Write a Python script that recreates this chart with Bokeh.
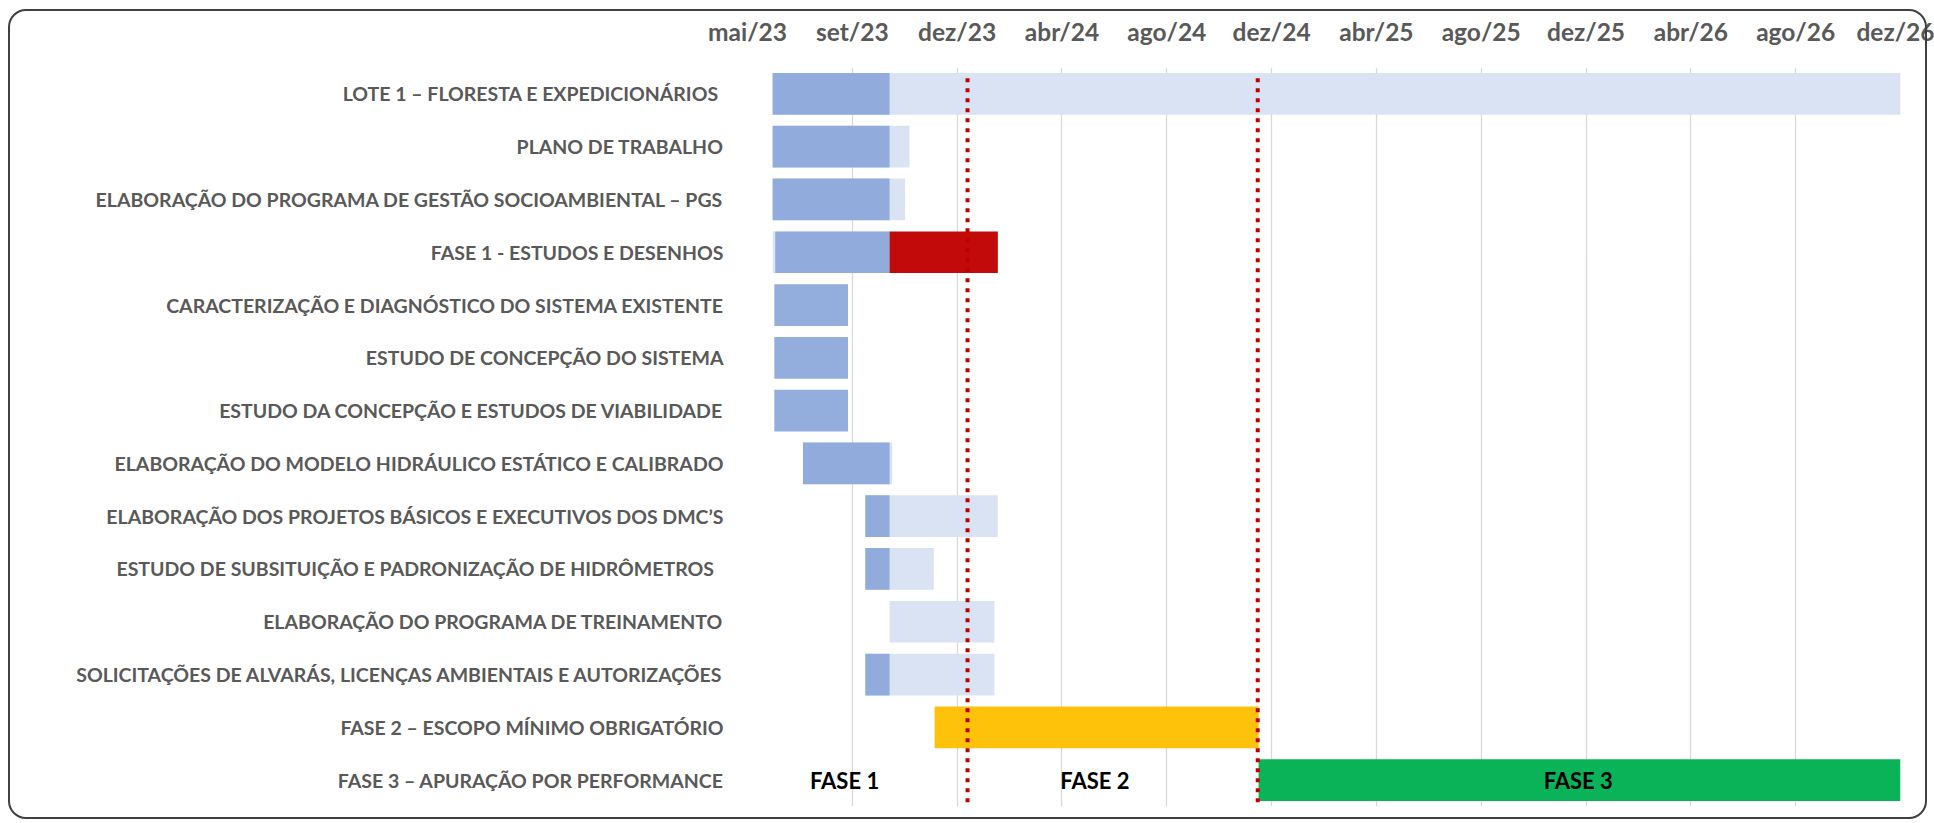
import pandas as pd
from bokeh.plotting import figure
from bokeh.models import FixedTicker, ColumnDataSource, Range1d, FactorRange, InlineStyleSheet
from bokeh.core.properties import value
from bokeh.embed import file_html
from bokeh.resources import INLINE

# ---------------- data ----------------
TASKS = [
    "LOTE 1 – FLORESTA E EXPEDICIONÁRIOS ",
    "PLANO DE TRABALHO",
    "ELABORAÇÃO DO PROGRAMA DE GESTÃO SOCIOAMBIENTAL – PGS",
    "FASE 1 - ESTUDOS E DESENHOS",
    "CARACTERIZAÇÃO E DIAGNÓSTICO DO SISTEMA EXISTENTE",
    "ESTUDO DE CONCEPÇÃO DO SISTEMA",
    "ESTUDO DA CONCEPÇÃO E ESTUDOS DE VIABILIDADE",
    "ELABORAÇÃO DO MODELO HIDRÁULICO ESTÁTICO E CALIBRADO",
    "ELABORAÇÃO DOS PROJETOS BÁSICOS E EXECUTIVOS DOS DMC’S",
    "ESTUDO DE SUBSITUIÇÃO  E PADRONIZAÇÃO DE HIDRÔMETROS ",
    "ELABORAÇÃO DO PROGRAMA DE TREINAMENTO",
    "SOLICITAÇÕES DE ALVARÁS, LICENÇAS AMBIENTAIS E AUTORIZAÇÕES",
    "FASE 2 – ESCOPO MÍNIMO OBRIGATÓRIO",
    "FASE 3 – APURAÇÃO POR PERFORMANCE",
]

# planned (light) bars
PLAN_START = ["2023-06-01", "2023-06-01", "2023-06-01", "2023-06-01", None, None, None,
              "2023-07-06", "2023-09-16", "2023-09-16", "2023-10-14", "2023-09-16", None, None]
PLAN_END = ["2026-12-24", "2023-11-06", "2023-11-01", "2023-10-14", None, None, None,
            "2023-10-17", "2024-02-16", "2023-12-04", "2024-02-12", "2024-02-12", None, None]

# executed (dark) bars
DONE_START = ["2023-06-01", "2023-06-01", "2023-06-01", "2023-06-04", "2023-06-03", "2023-06-03",
              "2023-06-03", "2023-07-06", "2023-09-16", "2023-09-16", None, "2023-09-16", None, None]
DONE_END = ["2023-10-14", "2023-10-14", "2023-10-14", "2023-10-14", "2023-08-27", "2023-08-27",
            "2023-08-27", "2023-10-14", "2023-10-14", "2023-10-14", None, "2023-10-14", None, None]

# phase bars
PHASE_ROW = [3, 12, 13]
PHASE_START = ["2023-10-14", "2023-12-05", "2024-12-13"]
PHASE_END = ["2024-02-16", "2024-12-13", "2026-12-24"]

# milestone dotted lines
MILESTONES = ["2024-01-12", "2024-12-12"]

# phase labels in the last row
PHASE_LABELS = ["FASE 1", "FASE 2", "FASE 3"]
PHASE_LABEL_X = ["2023-08-23", "2024-06-07", "2025-12-17"]

# date axis
AXIS_START = "2023-05-03"
TICK_STEP_DAYS = 121
TICK_LABELS = ["mai/23", "set/23", "dez/23", "abr/24", "ago/24", "dez/24",
               "abr/25", "ago/25", "dez/25", "abr/26", "ago/26", "dez/26"]

# ---------------- styles ----------------
DARK = "#8AA6DA"
LIGHT = "#DAE3F3"
PHASE_COLORS = ["#C00000", "#FFC000", "#00B050"]
RED_LINE = "#C00000"
FONT = "Lato"


def ms(d):
    return int(pd.Timestamp(d).value // 10**6)


start_ms = ms(AXIS_START)
ticks = [ms(pd.Timestamp(AXIS_START) + pd.Timedelta(days=TICK_STEP_DAYS * k))
         for k in range(len(TICK_LABELS))]
end_ms = ticks[-1]

plan = ColumnDataSource(dict(
    y=[t for t, s in zip(TASKS, PLAN_START) if s],
    left=[ms(s) for s in PLAN_START if s],
    right=[ms(e) for e in PLAN_END if e],
))
done = ColumnDataSource(dict(
    y=[t for t, s in zip(TASKS, DONE_START) if s],
    left=[ms(s) for s in DONE_START if s],
    right=[ms(e) for e in DONE_END if e],
))
phase = ColumnDataSource(dict(
    y=[TASKS[i] for i in PHASE_ROW],
    left=[ms(s) for s in PHASE_START],
    right=[ms(e) for e in PHASE_END],
    color=PHASE_COLORS,
))
mil = ColumnDataSource(dict(
    x=[ms(m) for m in MILESTONES],
    y0=[(TASKS[-1], -0.42)] * len(MILESTONES),
    y1=[(TASKS[0], 0.35)] * len(MILESTONES),
))
labels = ColumnDataSource(dict(
    x=[ms(d) for d in PHASE_LABEL_X],
    y=[TASKS[-1]] * len(PHASE_LABELS),
    text=PHASE_LABELS,
))

frame_css = InlineStyleSheet(css="""
:host { position: relative; }
:host::after {
  content: "";
  position: absolute;
  left: 8px; top: 9px; width: 1919px; height: 810px;
  box-sizing: border-box;
  border: 2px solid #404040;
  border-radius: 18px;
  pointer-events: none;
}
""")

p = figure(
    width=1934, height=820,
    y_range=FactorRange(factors=list(reversed(TASKS)), range_padding=0),
    x_range=Range1d(start_ms, end_ms),
    x_axis_location="above",
    output_backend="svg", toolbar_location=None,
    min_border_left=747, min_border_right=34, min_border_top=67, min_border_bottom=14,
    stylesheets=[frame_css],
)
p.outline_line_color = None
p.background_fill_color = None
p.border_fill_color = None

H = 0.79
p.hbar(y="y", left="left", right="right", height=H, source=plan,
       fill_color=LIGHT, line_color=None)
p.hbar(y="y", left="left", right="right", height=H, source=done,
       fill_color=DARK, fill_alpha=0.92, line_color=None)
p.hbar(y="y", left="left", right="right", height=H, source=phase,
       fill_color="color", fill_alpha=0.96, line_color=None)
p.segment(x0="x", x1="x", y0="y0", y1="y1", source=mil,
          line_color=RED_LINE, line_width=4, line_dash="4 6")
p.text(x="x", y="y", text="text", source=labels,
       text_font=value(FONT), text_font_style="bold", text_font_size="22px",
       text_color="black", text_align="center", text_baseline="middle")

xt = FixedTicker(ticks=ticks)
ax = p.xaxis[0]
ax.ticker = xt
ax.major_label_overrides = {t: lab for t, lab in zip(ticks, TICK_LABELS)}
ax.axis_line_color = None
ax.major_tick_line_color = None
ax.minor_tick_line_color = None
ax.major_label_text_font = FONT
ax.major_label_text_font_style = "bold"
ax.major_label_text_font_size = "24.5px"
ax.major_label_text_color = "#595959"
ax.major_label_standoff = 16

p.xgrid.ticker = xt
p.xgrid.grid_line_color = "#D9D9D9"
p.xgrid.grid_line_width = 1.3
p.ygrid.grid_line_color = None

ay = p.yaxis[0]
ay.axis_line_color = None
ay.major_tick_line_color = None
ay.minor_tick_line_color = None
ay.major_label_text_font = FONT
ay.major_label_text_font_style = "bold"
ay.major_label_text_font_size = "19.5px"
ay.major_label_text_color = "#595959"
ay.major_label_standoff = 18

open("out.html", "w").write(file_html(p, INLINE))
